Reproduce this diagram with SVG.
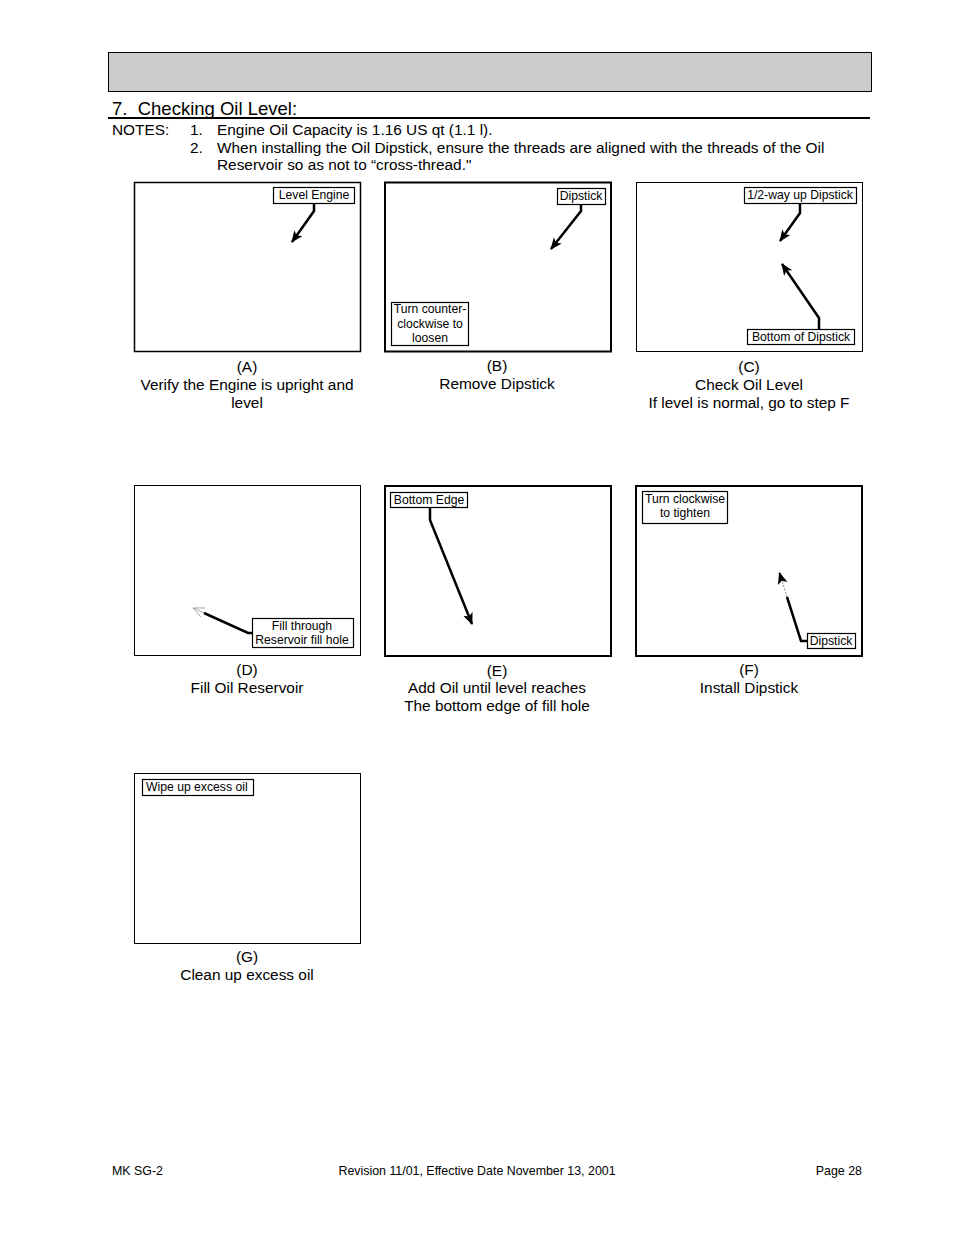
<svg xmlns="http://www.w3.org/2000/svg" width="954" height="1235" viewBox="0 0 954 1235">
<style>
text{font-family:"Liberation Sans",Arial,sans-serif;fill:#000}
.t14{font-size:15.4px}
.t12{font-size:12.4px}
.lbl{font-size:12.2px}
.mid{text-anchor:middle}
.panel{fill:#fff;stroke:#000}
.box{fill:#fff;stroke:#000;stroke-width:1.2}
.arr{fill:none;stroke:#000;stroke-width:2.5;stroke-linejoin:miter}
</style>
<defs>
<marker id="ah" markerUnits="userSpaceOnUse" markerWidth="14" markerHeight="12" refX="11" refY="5" orient="auto">
<path d="M0,0 L12,5 L0,10 L3,5 z" fill="#000"/>
</marker>
<marker id="ahf" markerUnits="userSpaceOnUse" markerWidth="14" markerHeight="12" refX="11" refY="5" orient="auto">
<path d="M0,0 L11,5 L0,10" fill="none" stroke="#999" stroke-width="0.8"/>
</marker>
</defs>
<rect width="954" height="1235" fill="#fff"/>
<g id="header">
<rect x="108.5" y="52.5" width="763" height="39" fill="#cccccc" stroke="#000" stroke-width="1"/>
<text x="112" y="115" style="font-size:18.5px" xml:space="preserve">7.  Checking Oil Level:</text>
<line x1="108" y1="118" x2="870" y2="118" stroke="#000" stroke-width="2"/>
<text class="t14" x="112" y="135">NOTES:</text>
<text class="t14" x="190" y="135">1.</text>
<text class="t14" x="217" y="135">Engine Oil Capacity is 1.16 US qt (1.1 l).</text>
<text class="t14" x="190" y="153">2.</text>
<text class="t14" x="217" y="153">When installing the Oil Dipstick, ensure the threads are aligned with the threads of the Oil</text>
<text class="t14" x="217" y="170">Reservoir so as not to “cross-thread."</text>
</g>
<g id="panelA">
<rect class="panel" x="134.5" y="182.5" width="226" height="169" stroke-width="1.5"/>
<rect class="box" x="273.5" y="187.5" width="81" height="16"/>
<text class="lbl mid" x="314" y="199">Level Engine</text>
<text class="t14 mid" x="247" y="372">(A)</text>
<text class="t14 mid" x="247" y="390">Verify the Engine is upright and</text>
<text class="t14 mid" x="247" y="408">level</text>
</g>
<g id="panelB">
<rect class="panel" x="385" y="182.5" width="226" height="169" stroke-width="2"/>
<rect class="box" x="557.5" y="188.5" width="48" height="16"/>
<text class="lbl mid" x="581" y="200">Dipstick</text>
<rect class="box" x="391.5" y="302.5" width="77" height="43"/>
<text class="lbl mid" x="430" y="313">Turn counter-</text>
<text class="lbl mid" x="430" y="328">clockwise to</text>
<text class="lbl mid" x="430" y="342">loosen</text>
<text class="t14 mid" x="497" y="371">(B)</text>
<text class="t14 mid" x="497" y="389">Remove Dipstick</text>
</g>
<g id="panelC">
<rect class="panel" x="636.5" y="182.5" width="226" height="169" stroke-width="1"/>
<rect class="box" x="744.5" y="187.5" width="112" height="16"/>
<text class="lbl mid" x="800" y="199">1/2-way up Dipstick</text>
<rect class="box" x="747.5" y="329.5" width="107" height="15"/>
<text class="lbl mid" x="801" y="341">Bottom of Dipstick</text>
<text class="t14 mid" x="749" y="372">(C)</text>
<text class="t14 mid" x="749" y="390">Check Oil Level</text>
<text class="t14 mid" x="749" y="408">If level is normal, go to step F</text>
</g>
<g id="panelD">
<rect class="panel" x="134.5" y="485.5" width="226" height="170" stroke-width="1"/>
<rect class="box" x="252.5" y="618.5" width="101" height="29"/>
<text class="lbl mid" x="302" y="630">Fill through</text>
<text class="lbl mid" x="302" y="644">Reservoir fill hole</text>
<text class="t14 mid" x="247" y="675">(D)</text>
<text class="t14 mid" x="247" y="693">Fill Oil Reservoir</text>
</g>
<g id="panelE">
<rect class="panel" x="385" y="486" width="226" height="170" stroke-width="2"/>
<rect class="box" x="390.5" y="492.5" width="77" height="15"/>
<text class="lbl mid" x="429" y="504">Bottom Edge</text>
<text class="t14 mid" x="497" y="676">(E)</text>
<text class="t14 mid" x="497" y="693">Add Oil until level reaches</text>
<text class="t14 mid" x="497" y="711">The bottom edge of fill hole</text>
</g>
<g id="panelF">
<rect class="panel" x="636" y="486" width="226" height="170" stroke-width="2"/>
<rect class="box" x="642.5" y="491.5" width="85" height="32"/>
<text class="lbl mid" x="685" y="503">Turn clockwise</text>
<text class="lbl mid" x="685" y="517">to tighten</text>
<rect class="box" x="807.5" y="633.5" width="48" height="15"/>
<text class="lbl mid" x="831" y="645">Dipstick</text>
<text class="t14 mid" x="749" y="675">(F)</text>
<text class="t14 mid" x="749" y="693">Install Dipstick</text>
</g>
<g id="panelG">
<rect class="panel" x="134.5" y="773.5" width="226" height="170" stroke-width="1"/>
<rect class="box" x="142.5" y="779.5" width="111" height="16"/>
<text class="lbl" x="146" y="791">Wipe up excess oil</text>
<text class="t14 mid" x="247" y="962">(G)</text>
<text class="t14 mid" x="247" y="980">Clean up excess oil</text>
</g>
<g id="connectors">
<polyline class="arr" points="314,204 314,211 292,242" marker-end="url(#ah)"/>
<polyline class="arr" points="581,205 581,211 551,249" marker-end="url(#ah)"/>
<polyline class="arr" points="800,204 800,213 780,241" marker-end="url(#ah)"/>
<polyline class="arr" points="819,329 819,318 782,264" marker-end="url(#ah)"/>
<polyline class="arr" points="252,633 248,633 204,613"/>
<polyline points="204,613 193,608" fill="none" stroke="#999" stroke-width="0.8" marker-end="url(#ahf)"/>
<polyline class="arr" points="430,508 430,520 472,624" marker-end="url(#ah)"/>
<polyline class="arr" points="807,641 801,641 787,597"/>
<polyline points="787,597 780,574" fill="none" stroke="#888" stroke-width="1" stroke-dasharray="2,1.5"/>
<polyline points="781,578 779.5,573" fill="none" stroke="#000" stroke-width="2" marker-end="url(#ah)"/>
</g>
<g id="footer">
<text class="t12" x="112" y="1175">MK SG-2</text>
<text class="t12 mid" x="477" y="1175">Revision 11/01, Effective Date November 13, 2001</text>
<text class="t12" x="862" y="1175" text-anchor="end">Page 28</text>
</g>
</svg>
